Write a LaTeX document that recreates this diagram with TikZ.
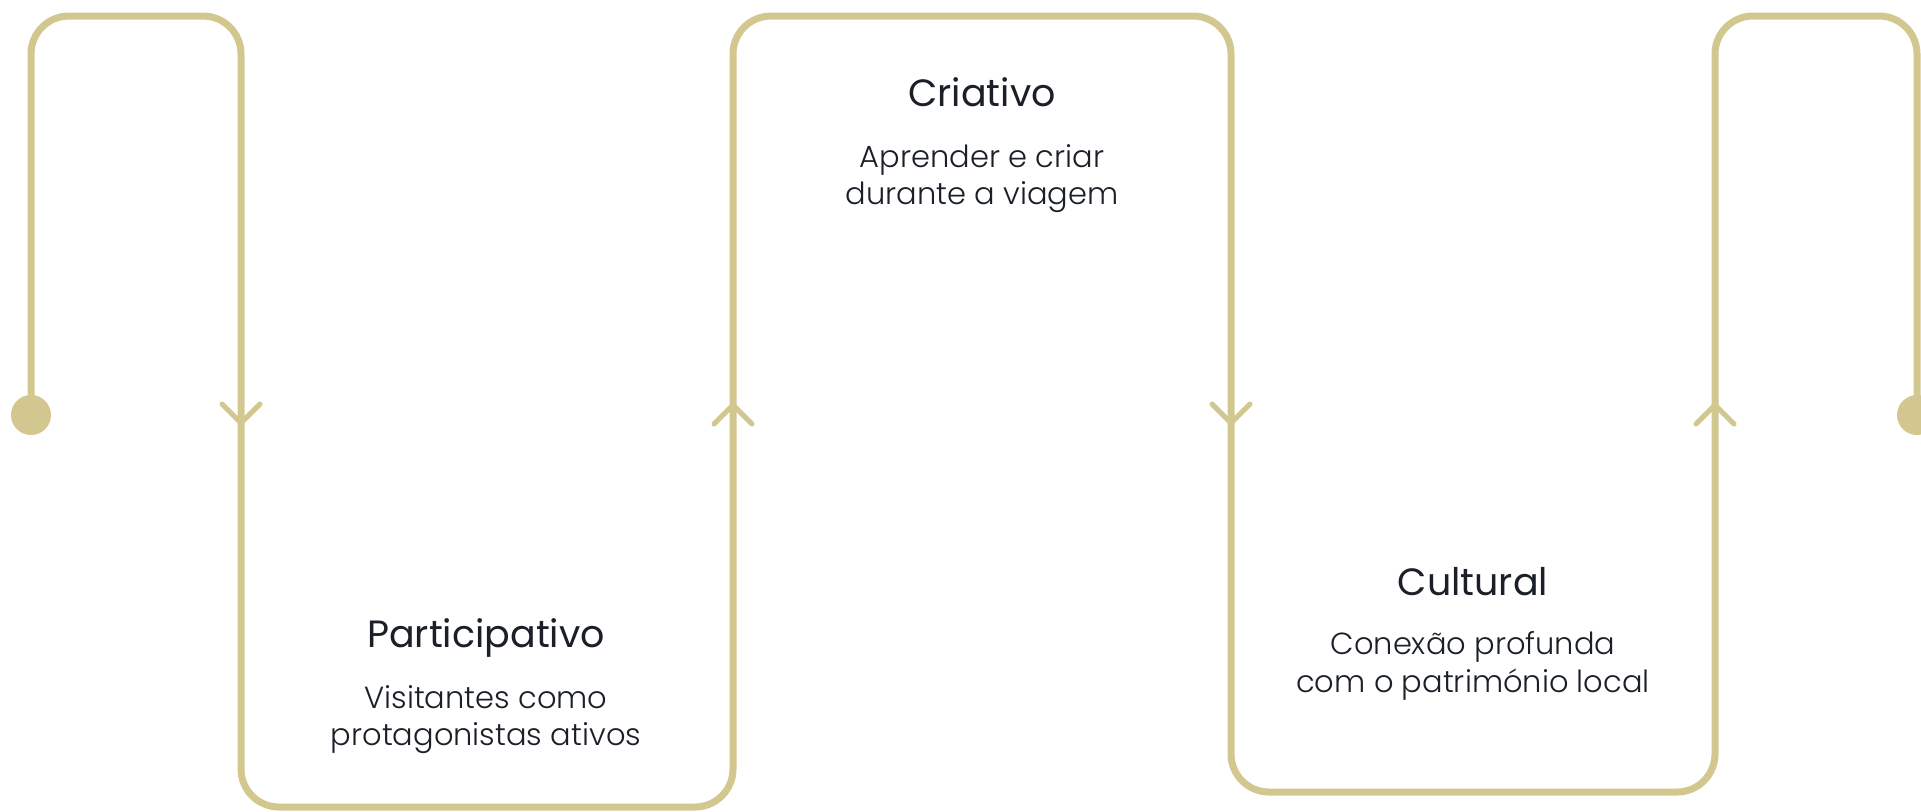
\documentclass[tikz,border=0pt]{standalone}
\usepackage{fontspec}
\setmainfont{Poppins}
\newfontfamily\lightfont{Poppins Light}
\definecolor{gold}{HTML}{D3C790}
\definecolor{ink}{HTML}{1B2028}
\begin{document}
\begin{tikzpicture}[x=1pt,y=-1pt,
  flow/.style={draw=gold, line width=7pt, rounded corners=38pt, line cap=round},
  chev/.style={draw=gold, line width=5pt, line cap=round, line join=round},
  dotnode/.style={circle, fill=gold, minimum size=40pt, inner sep=0pt},
  ttl/.style={anchor=base, inner sep=0pt, text=ink, font=\fontsize{38}{46}\selectfont},
  sub/.style={anchor=base, inner sep=0pt, text=ink, font=\lightfont\fontsize{30.5}{38}\selectfont}]
\fill[white] (0,0) rectangle (1921,811);
\useasboundingbox (0,0) rectangle (1921,811);
% path corners
\coordinate (c1) at (31,16);
\coordinate (c2) at (241,16);
\coordinate (c3) at (241,807);
\coordinate (c4) at (733,807);
\coordinate (c5) at (733,16);
\coordinate (c6) at (1231,16);
\coordinate (c7) at (1231,792);
\coordinate (c8) at (1715,792);
\coordinate (c9) at (1715,16);
\coordinate (c10) at (1917,16);
\node[dotnode] (start) at (31,415) {};
\node[dotnode] (end) at (1917,415) {};
\draw[flow] (start.center) -- (c1) -- (c2) -- (c3) -- (c4) -- (c5) -- (c6) -- (c7) -- (c8) -- (c9) -- (c10) -- (end.center);
% chevrons
\coordinate (a1) at (241,423);
\coordinate (a2) at (733,405);
\coordinate (a3) at (1231,423);
\coordinate (a4) at (1715,405);
\draw[chev] ([shift={(-19,-19)}]a1) -- (a1) -- ([shift={(19,-19)}]a1);
\draw[chev] ([shift={(-19,19)}]a2) -- (a2) -- ([shift={(19,19)}]a2);
\draw[chev] ([shift={(-19,-19)}]a3) -- (a3) -- ([shift={(19,-19)}]a3);
\draw[chev] ([shift={(-19,19)}]a4) -- (a4) -- ([shift={(19,19)}]a4);
% texts
\node[ttl] (t1) at (486,647) {Participativo};
\node[sub] (s1a) at (486,708) {Visitantes como};
\node[sub] (s1b) at (486,745) {protagonistas ativos};
\node[ttl] (t2) at (982,106) {Criativo};
\node[sub] (s2a) at (982,167) {Aprender e criar};
\node[sub] (s2b) at (982,204) {durante a viagem};
\node[ttl] (t3) at (1473,595) {Cultural};
\node[sub] (s3a) at (1473,654) {Conexão profunda};
\node[sub] (s3b) at (1473,692) {com o património local};
\end{tikzpicture}
\end{document}
